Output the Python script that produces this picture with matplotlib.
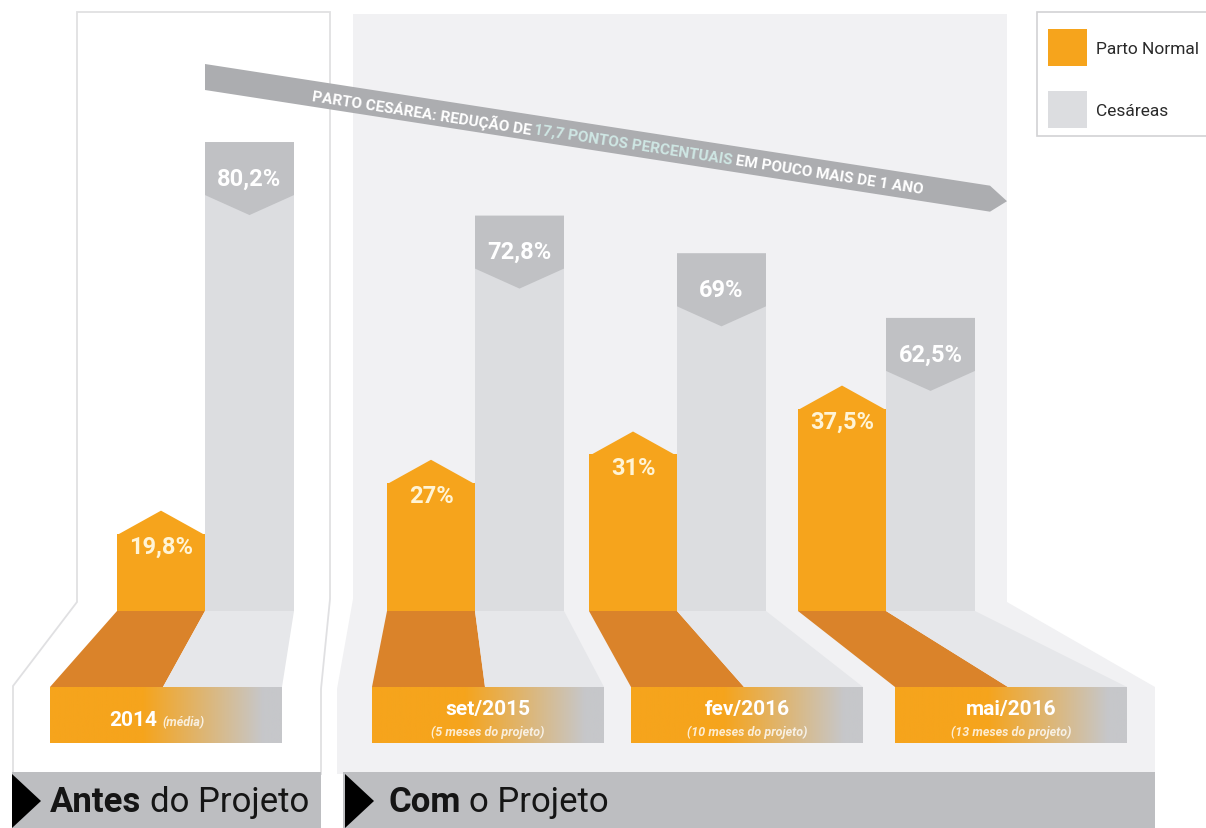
import numpy as np
import matplotlib.pyplot as plt
from matplotlib.patches import Polygon, Rectangle
from matplotlib.colors import LinearSegmentedColormap

# data
categories = ["2014", "set/2015", "fev/2016", "mai/2016"]
subtitles = ["(média)", "(5 meses do projeto)", "(10 meses do projeto)", "(13 meses do projeto)"]
parto_normal = [19.8, 27, 31, 37.5]
cesareas = [80.2, 72.8, 69, 62.5]
series_names = ["Parto Normal", "Cesáreas"]
arrow_parts = ["PARTO CESÁREA: REDUÇÃO DE", "17,7 PONTOS PERCENTUAIS", "EM POUCO MAIS DE 1 ANO"]
phase_bold = ["Antes", "Com"]
phase_rest = ["do Projeto", "o Projeto"]

# colours
ORANGE = "#f6a41c"
DARK_ORANGE = "#da832a"
BAR_GRAY = "#dcdde0"
BLOCK_GRAY = "#c0c1c4"
BASE_GRAY = "#e6e7ea"
PANEL = "#f1f1f3"
BAND = "#bdbec1"
ARROW = "#acadb0"
TEAL = "#cfe7e4"
COND = ["Roboto", "DejaVu Sans"]

# layout (pixels)
W, H = 1206, 829
BASE_Y = 612
split_x = np.array([205, 475, 677, 886])   # border between orange and gray bar
ow, gw = 88, 89
box_x = np.array([50, 372, 631, 895])
box_w, box_top, box_bot = 232, 688, 744

fig = plt.figure(figsize=(W / 100, H / 100), dpi=100)
ax = fig.add_axes([0, 0, 1, 1])
ax.axis("off")

# panels
left_panel = [(77, 13), (330, 13), (330, 600), (321, 690), (321, 775),
              (13, 775), (13, 687), (77, 603)]
ax.add_patch(Polygon(left_panel, closed=True, facecolor="white", edgecolor="#e0e0e2", lw=1.3))
right_panel = [(353, 15), (1007, 15), (1007, 603), (1155, 688), (1155, 775),
               (337, 775), (337, 690), (353, 600)]
ax.add_patch(Polygon(right_panel, closed=True, facecolor=PANEL, edgecolor="none"))

# perspective floor + date boxes
grad = LinearSegmentedColormap.from_list(
    "g", [(0, ORANGE), (0.40, ORANGE), (0.92, "#c6c7ca"), (1, "#c6c7ca")])
for i in range(len(categories)):
    sx, bx = split_x[i], box_x[i]
    mid = bx + 113
    ax.add_patch(Polygon([(sx - ow, BASE_Y), (sx, BASE_Y), (mid, box_top), (bx, box_top)],
                         facecolor=DARK_ORANGE, edgecolor="none", zorder=2))
    ax.add_patch(Polygon([(sx, BASE_Y), (sx + gw, BASE_Y), (bx + box_w, box_top), (mid, box_top)],
                         facecolor=BASE_GRAY, edgecolor="none", zorder=2))
    ax.imshow(np.linspace(0, 1, 256)[None, :], cmap=grad, aspect="auto",
              extent=(bx, bx + box_w, box_bot, box_top), zorder=3)

renderer = fig.canvas.get_renderer()


def width_of(t):
    return t.get_window_extent(renderer).width


# date labels
t1 = ax.text(0, 721, categories[0], color="white", fontsize=15, fontweight="bold",
             family=COND, va="center", ha="left", zorder=4)
t2 = ax.text(0, 723, subtitles[0], color="white", fontsize=9, style="italic",
             fontweight="bold", family=COND, va="center", ha="left", zorder=4, alpha=0.8)
w1, w2 = width_of(t1), width_of(t2)
x0 = box_x[0] + box_w / 2 - 9 - (w1 + 5 + w2) / 2
t1.set_x(x0)
t2.set_x(x0 + w1 + 5)
for i in range(1, len(categories)):
    cx = box_x[i] + box_w / 2
    ax.text(cx, 710, categories[i], color="white", fontsize=15, fontweight="bold",
            family=COND, va="center", ha="center", zorder=4)
    ax.text(cx, 732, subtitles[i], color="white", fontsize=9, style="italic",
            fontweight="bold", family=COND, va="center", ha="center", zorder=4, alpha=0.8)

# bottom band
for (xa, xb), tri_x, bold, rest, tx in zip([(12, 321), (343, 1155)], [12, 345],
                                            phase_bold, phase_rest, [50, 388]):
    ax.add_patch(Rectangle((xa, 773), xb - xa, 60, facecolor=BAND, edgecolor="none", zorder=5))
    ax.add_patch(Polygon([(tri_x, 775), (tri_x, 829), (tri_x + 29, 802)],
                         facecolor="black", edgecolor="none", zorder=6))
    tb = ax.text(tx, 812, bold, fontsize=25, fontweight="bold", family=COND,
                 color="#151515", va="baseline", ha="left", zorder=6)
    ax.text(tx + width_of(tb) + 9, 812, rest, fontsize=25, family=COND,
            color="#151515", va="baseline", ha="left", zorder=6)

# arrow band
slope = 0.155
ang = np.degrees(np.arctan(slope))
y_end = 65 + slope * (990 - 205)
ax.add_patch(Polygon([(205, 65), (990, y_end), (1007, y_end + 15.5), (990, y_end + 26), (205, 91)],
                     facecolor=ARROW, edgecolor="none", zorder=2))
parts = [ax.text(0, 0, p, fontsize=10, fontweight="bold", family=COND, zorder=3)
         for p in arrow_parts]
sp_t = ax.text(0, 0, "A A", fontsize=10, fontweight="bold", family=COND)
sp_t2 = ax.text(0, 0, "AA", fontsize=10, fontweight="bold", family=COND)
space = width_of(sp_t) - width_of(sp_t2)
sp_t.remove()
sp_t2.remove()
widths = [width_of(p) for p in parts]
k = 618 / (sum(widths) + 2 * space)
dist = 0.0
for p, w, col in zip(parts, widths, ["white", TEAL, "white"]):
    xs = 312 + dist * np.cos(np.radians(ang))
    ys = 79 + slope * (312 - 205) + dist * np.sin(np.radians(ang))
    p.set_position((xs, ys))
    p.set_fontsize(10 * k)
    p.set_color(col)
    p.set_rotation(-ang)
    p.set_rotation_mode("anchor")
    p.set_ha("left")
    p.set_va("center")
    dist += (w + space) * k

# legend
ax.add_patch(Rectangle((1037, 13), 200, 124, facecolor="white", edgecolor="#d2d2d4", lw=1.2, zorder=2))
for y, col, name in zip([30, 92], [ORANGE, BAR_GRAY], series_names):
    ax.add_patch(Rectangle((1048, y), 39, 37, facecolor=col, edgecolor="none", zorder=3))
    ax.text(1096, y + 19, name, fontsize=12.5, family=COND, color="#2a2a2a",
            va="center", ha="left", zorder=3)

ax.set_xlim(0, W)
ax.set_ylim(H, 0)

# value axes: bars are clipped at the floor line
pos = [0, (H - BASE_Y) / H, 1, BASE_Y / H]
ax_c = fig.add_axes(pos)
ax_c.set_xlim(0, W)
ax_c.set_ylim(33.0, 94.6)
ax_n = fig.add_axes(pos)
ax_n.set_xlim(0, W)
ax_n.set_ylim(5.6, 92.2)
for a in (ax_c, ax_n):
    a.axis("off")
    a.patch.set_alpha(0)


def fmt(v):
    return f"{v:g}".replace(".", ",") + "%"


# cesareas
u = (94.6 - 33.0) / BASE_Y
cx = split_x + gw / 2
ax_c.bar(cx, cesareas, width=gw, color=BAR_GRAY, linewidth=0)
for x, v in zip(cx, cesareas):
    l, r = x - gw / 2, x + gw / 2
    ax_c.add_patch(Polygon([(l, v), (r, v), (r, v - 53 * u), (x, v - 73 * u), (l, v - 53 * u)],
                           facecolor=BLOCK_GRAY, edgecolor="none"))
    ax_c.text(x, v - 36 * u, fmt(v), color="white", fontsize=17, fontweight="bold",
              family=COND, ha="center", va="center")

# parto normal
u = (92.2 - 5.6) / BASE_Y
nx = split_x - ow / 2
cap = 23 * u
ax_n.bar(nx, [v - cap for v in parto_normal], width=ow, color=ORANGE, linewidth=0)
for x, v in zip(nx, parto_normal):
    l, r = x - ow / 2, x + ow / 2
    ax_n.add_patch(Polygon([(l, v - cap - 0.2), (x, v), (r, v - cap - 0.2)],
                           facecolor=ORANGE, edgecolor="none"))
    ax_n.text(x, v - 36 * u, fmt(v), color="#fff4d6", fontsize=17, fontweight="bold",
              family=COND, ha="center", va="center")

fig.savefig("out.png", dpi=100)
